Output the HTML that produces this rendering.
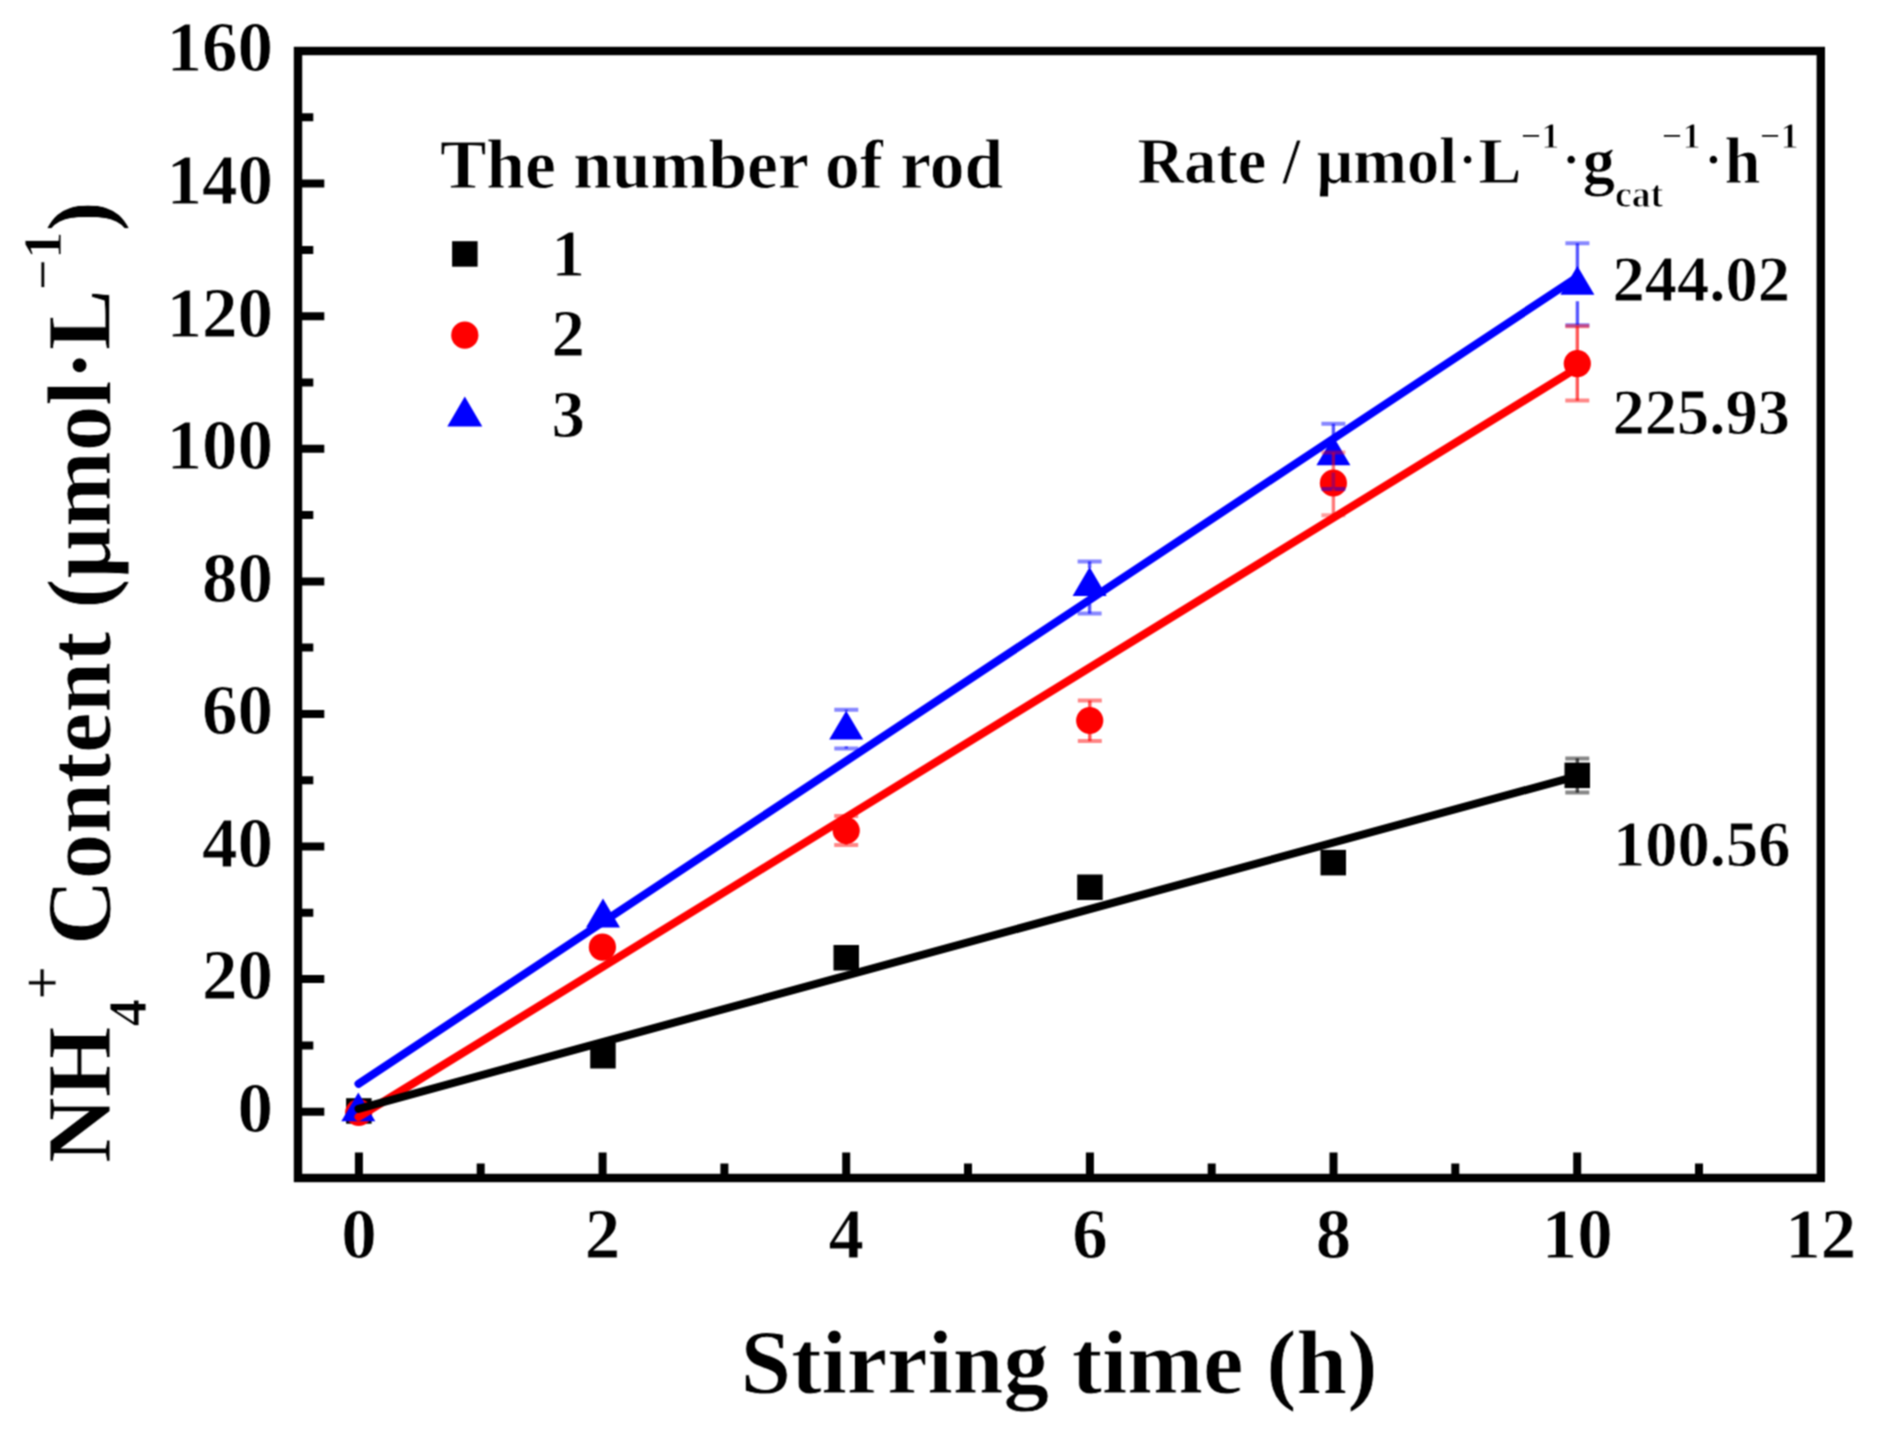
<!DOCTYPE html>
<html lang="en"><head><meta charset="utf-8"><title>NH4+ content vs stirring time</title>
<style>html,body{margin:0;padding:0;background:#fff}body{width:1877px;height:1441px;overflow:hidden}svg{display:block}text{font-family:"Liberation Serif","Times New Roman",serif;font-weight:bold;fill:#000;stroke:#fff;stroke-width:.8px}</style></head><body>
<svg width="1877" height="1441" viewBox="0 0 1877 1441">
<rect width="1877" height="1441" fill="#fff"/>
<defs><filter id="soft" x="0" y="0" width="1877" height="1441" filterUnits="userSpaceOnUse" color-interpolation-filters="sRGB"><feConvolveMatrix order="3" kernelMatrix="1 2 1 2 4 2 1 2 1" divisor="16" edgeMode="duplicate" preserveAlpha="true"/></filter></defs>
<g filter="url(#soft)"><rect width="1877" height="1441" fill="#fff"/>
<rect x="298.0" y="51.0" width="1522.8" height="1127.0" fill="none" stroke="#000" stroke-width="8.4"/>
<path d="M298.0 1111.7h26.3M298.0 1045.4h15.3M298.0 979.1h26.3M298.0 912.8h15.3M298.0 846.5h26.3M298.0 780.2h15.3M298.0 713.9h26.3M298.0 647.6h15.3M298.0 581.4h26.3M298.0 515.1h15.3M298.0 448.8h26.3M298.0 382.5h15.3M298.0 316.2h26.3M298.0 249.9h15.3M298.0 183.6h26.3M298.0 117.3h15.3M358.9 1178.0v-25.6M480.7 1178.0v-14.6M602.6 1178.0v-25.6M724.4 1178.0v-14.6M846.2 1178.0v-25.6M968.0 1178.0v-14.6M1089.9 1178.0v-25.6M1211.7 1178.0v-14.6M1333.5 1178.0v-25.6M1455.3 1178.0v-14.6M1577.2 1178.0v-25.6M1699.0 1178.0v-14.6" stroke="#000" stroke-width="8" fill="none"/>
<g font-size="71" text-anchor="end">
<text x="273" y="1132.0">0</text>
<text x="273" y="999.4">20</text>
<text x="273" y="866.8">40</text>
<text x="273" y="734.2">60</text>
<text x="273" y="601.7">80</text>
<text x="273" y="469.1">100</text>
<text x="273" y="336.5">120</text>
<text x="273" y="203.9">140</text>
<text x="273" y="71.3">160</text>
</g>
<g font-size="71" text-anchor="middle">
<text x="358.9" y="1258">0</text>
<text x="602.6" y="1258">2</text>
<text x="846.2" y="1258">4</text>
<text x="1089.9" y="1258">6</text>
<text x="1333.5" y="1258">8</text>
<text x="1577.2" y="1258">10</text>
<text x="1820.8" y="1258">12</text>
</g>
<text x="1059" y="1393" font-size="91" text-anchor="middle">Stirring time (h)</text>
<text transform="translate(110 1163) rotate(-90)" font-size="91">NH<tspan font-size="55" dy="36">4</tspan><tspan font-size="60" dy="-83.7" dx="-1">+</tspan><tspan dy="47.7" dx="-2"> Content (μmol·L</tspan><tspan font-size="55" dy="-49" dx="-1">−1</tspan><tspan dy="49">)</tspan></text>
<rect x="346.1" y="1098.2" width="25.5" height="25.5" fill="#000"/>
<rect x="590.2" y="1043.0" width="25.5" height="25.5" fill="#000"/>
<rect x="833.5" y="945.0" width="25.5" height="25.5" fill="#000"/>
<rect x="1077.2" y="874.5" width="25.5" height="25.5" fill="#000"/>
<rect x="1320.5" y="849.9" width="25.5" height="25.5" fill="#000"/>
<rect x="1564.5" y="762.6" width="25.5" height="25.5" fill="#000"/>
<circle cx="358.7" cy="1112.5" r="13.6" fill="#f00"/>
<circle cx="602.4" cy="947.1" r="13.6" fill="#f00"/>
<circle cx="846.2" cy="830.5" r="13.6" fill="#f00"/>
<circle cx="1089.7" cy="720.5" r="13.6" fill="#f00"/>
<circle cx="1333.4" cy="483.0" r="13.6" fill="#f00"/>
<circle cx="1577.3" cy="363.6" r="13.6" fill="#f00"/>
<path d="M358.3 1092.5L375.3 1121.3H341.3Z" fill="#00f"/>
<path d="M603.0 898.6L620.0 927.4H586.0Z" fill="#00f"/>
<path d="M846.2 710.8L863.2 739.6H829.2Z" fill="#00f"/>
<path d="M1089.6 567.1L1106.6 595.9H1072.6Z" fill="#00f"/>
<path d="M1333.4 436.5L1350.4 465.3H1316.4Z" fill="#00f"/>
<path d="M1577.4 266.0L1594.4 294.8H1560.4Z" fill="#00f"/>
<path d="M1577.3 758.4V792.5" stroke="#000" stroke-width="3.4" stroke-opacity="0.66" fill="none"/><path d="M1565.3 758.4h24M1565.3 792.5h24" stroke="#000" stroke-width="4" stroke-opacity="0.47" fill="none"/>
<path d="M846.3 709.8V711.0M846.3 746.5V748.4" stroke="#00f" stroke-width="3.4" stroke-opacity="0.66" fill="none"/><path d="M834.3 709.8h24M834.3 748.4h24" stroke="#00f" stroke-width="4" stroke-opacity="0.47" fill="none"/>
<path d="M1089.6 561.4V568.0M1089.6 604.0V613.4" stroke="#00f" stroke-width="3.4" stroke-opacity="0.66" fill="none"/><path d="M1077.6 561.4h24M1077.6 613.4h24" stroke="#00f" stroke-width="4" stroke-opacity="0.47" fill="none"/>
<path d="M1333.4 423.8V437.0M1333.4 472.5V488.9" stroke="#00f" stroke-width="3.4" stroke-opacity="0.66" fill="none"/><path d="M1321.4 423.8h24M1321.4 488.9h24" stroke="#00f" stroke-width="4" stroke-opacity="0.47" fill="none"/>
<path d="M1577.4 243.2V294.0M1577.4 301.2V325.2" stroke="#00f" stroke-width="3.4" stroke-opacity="0.66" fill="none"/><path d="M1565.4 243.2h24M1565.4 325.2h24" stroke="#00f" stroke-width="4" stroke-opacity="0.47" fill="none"/>
<path d="M846.2 816.0V844.9" stroke="#f00" stroke-width="3.4" stroke-opacity="0.66" fill="none"/><path d="M834.2 816.0h24M834.2 844.9h24" stroke="#f00" stroke-width="4" stroke-opacity="0.47" fill="none"/>
<path d="M1089.8 700.6V741.1" stroke="#f00" stroke-width="3.4" stroke-opacity="0.66" fill="none"/><path d="M1077.8 700.6h24M1077.8 741.1h24" stroke="#f00" stroke-width="4" stroke-opacity="0.47" fill="none"/>
<g opacity="0.8"><path d="M1333.4 452.5V515.2" stroke="#f00" stroke-width="3.4" stroke-opacity="0.66" fill="none"/><path d="M1321.4 452.5h24M1321.4 515.2h24" stroke="#f00" stroke-width="4" stroke-opacity="0.47" fill="none"/></g>
<path d="M1577.3 326.2V400.6" stroke="#f00" stroke-width="3.4" stroke-opacity="0.66" fill="none"/><path d="M1565.3 326.2h24M1565.3 400.6h24" stroke="#f00" stroke-width="4" stroke-opacity="0.47" fill="none"/>
<g stroke-width="8" fill="none" stroke-linecap="round">
<line x1="358.5" y1="1083.8" x2="1576" y2="278" stroke="#00f"/>
<line x1="358.5" y1="1117" x2="1576" y2="368.7" stroke="#f00"/>
<line x1="358.5" y1="1108.8" x2="1576" y2="776.3" stroke="#000"/>
</g>
<g font-size="69.5">
<text x="440" y="187.5">The number of rod</text>
<g font-size="66.7"><text x="551.5" y="276">1</text><text x="551.5" y="356.4">2</text><text x="551.5" y="436.8">3</text></g>
<text x="1137.5" y="182.8" font-size="64.5">Rate / μmol<tspan font-size="52" dx="2" dy="-5.6">·</tspan><tspan dx="2" dy="5.6">L</tspan><tspan font-size="36.5" dy="-35" dx="-1">−1</tspan><tspan font-size="52" dx="2.9" dy="29.4">·</tspan><tspan dx="3.1" dy="5.6">g</tspan><tspan font-size="37.5" dy="24.6">cat</tspan><tspan font-size="36.5" dy="-59.6" dx="-1.4">−1</tspan><tspan font-size="52" dx="4.1" dy="29.4">·</tspan><tspan dx="2.3" dy="5.6">h</tspan><tspan font-size="36.5" dy="-35" dx="-0.5">−1</tspan></text>
<g font-size="64.5"><text x="1612.5" y="300.5">244.02</text><text x="1612.5" y="433.5">225.93</text><text x="1613" y="866">100.56</text></g>
</g>
<rect x="452.1" y="241.2" width="25.5" height="25.5" fill="#000"/>
<circle cx="464.8" cy="335.2" r="13.6" fill="#f00"/>
<path d="M464.8 396.5L482.3 426.5H447.3Z" fill="#00f"/>
</g></svg></body></html>
